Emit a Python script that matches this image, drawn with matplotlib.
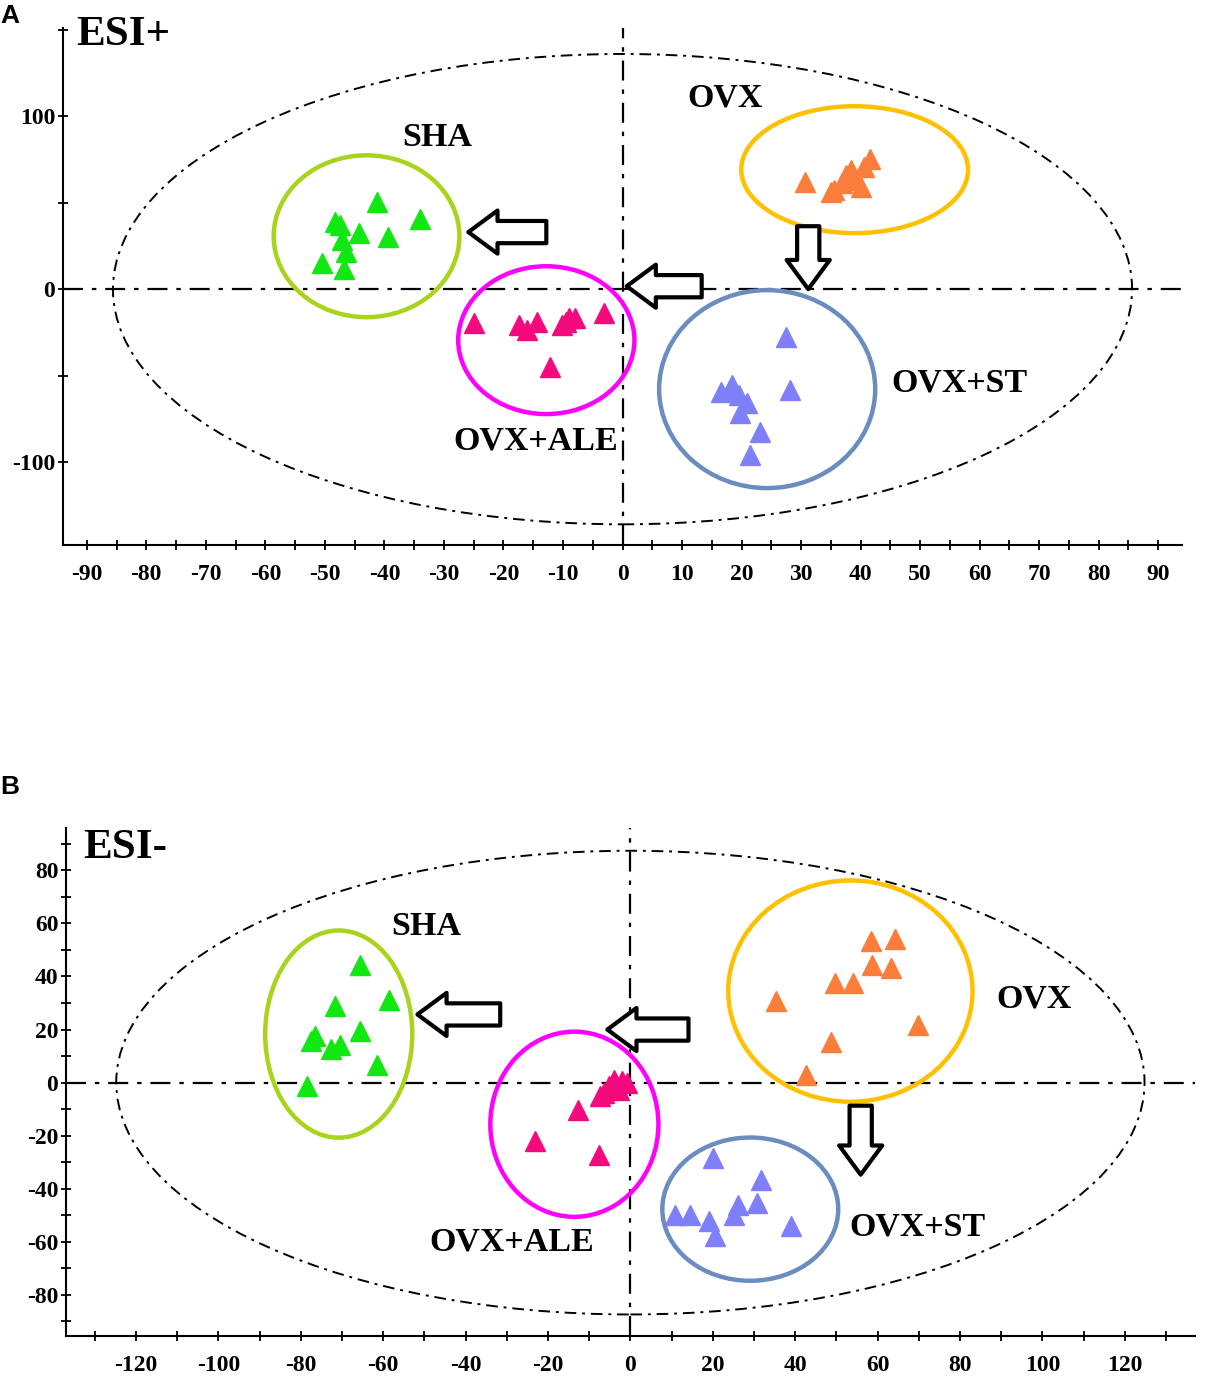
import numpy as np
import matplotlib
matplotlib.use("Agg")
import matplotlib.pyplot as plt
from matplotlib.patches import Ellipse
from matplotlib.ticker import MultipleLocator

plt.rcParams["axes.unicode_minus"] = False

# ---- panel A (ESI+) scores ----
a_sha_x = [-41.2, -34.1, -48.3, -47.5, -44.3, -39.4, -47.2, -46.5, -50.4, -46.8]
a_sha_y = [50.5, 40.5, 38.9, 37.0, 32.2, 29.9, 28.3, 21.6, 14.9, 11.4]
a_ale_x = [-25.0, -17.4, -16.0, -14.3, -10.1, -9.0, -7.9, -3.1, -12.1, -9.5]
a_ale_y = [-19.8, -20.8, -23.7, -18.9, -20.8, -16.9, -16.9, -13.7, -44.9, -19.0]
a_ovx_x = [30.6, 35.5, 38.3, 40.5, 41.6, 40.0, 36.9, 38.8, 37.5, 35.0]
a_ovx_y = [62.0, 57.2, 68.8, 70.7, 75.5, 59.1, 61.1, 63.0, 66.0, 56.0]
a_st_x = [27.5, 28.1, 16.5, 18.4, 19.5, 20.9, 19.8, 23.1, 21.4, 18.0]
a_st_y = [-27.6, -58.4, -59.4, -55.5, -61.3, -66.1, -71.9, -82.5, -96.0, -58.0]

# ---- panel B (ESI-) scores ----
b_sha_x = [-65.7, -58.7, -71.8, -65.6, -76.5, -77.5, -70.4, -72.6, -61.5, -78.4]
b_sha_y = [44.5, 31.1, 28.8, 19.4, 17.5, 15.5, 14.3, 12.5, 6.8, -1.4]
b_ale_x = [-4.0, -0.8, -2.8, -6.5, -7.3, -5.3, -12.6, -23.1, -7.7, -2.0]
b_ale_y = [1.1, -0.1, -2.6, -3.9, -5.2, -1.4, -10.2, -22.1, -27.2, 0.5]
b_ovx_x = [58.5, 64.2, 58.7, 63.2, 49.6, 54.1, 35.4, 69.9, 48.8, 42.7]
b_ovx_y = [53.3, 54.2, 44.2, 43.3, 37.6, 37.6, 30.7, 21.9, 15.2, 3.0]
b_st_x = [20.0, 31.7, 30.8, 26.1, 25.1, 10.9, 14.4, 19.0, 20.6, 39.0]
b_st_y = [-28.4, -36.6, -45.4, -46.0, -49.8, -49.8, -49.8, -52.3, -58.0, -54.2]

# group ellipses: (cx, cy, width, height)
a_groups = [(-43.0, 30.6, 31.2, 93.6), (-12.8, -29.5, 29.6, 85.5),
            (39.0, 69.1, 38.1, 73.4), (24.3, -57.8, 36.3, 114.5)]
b_groups = [(-70.8, 18.3, 35.7, 78.1), (-13.6, -15.7, 40.8, 69.8),
            (53.4, 34.5, 59.3, 83.4), (29.1, -47.7, 42.7, 54.0)]
# Hotelling ellipse (width, height)
a_t2 = (171.2, 272.0)
b_t2 = (249.6, 174.8)

# arrows: (tail, tip)
a_arrows = [((-12.8, 33.0), (-25.9, 33.0)), ((13.3, 1.7), (0.7, 1.7)),
            ((31.2, 36.4), (31.2, 0.0))]
b_arrows = [((-31.6, 25.7), (-51.7, 25.7)), ((14.1, 20.0), (-5.6, 20.0)),
            ((55.9, -8.7), (55.9, -34.7))]

# labels
a_labels = [("SHA", -31.1, 87.9), ("OVX", 17.3, 110.4),
            ("OVX+ST", 56.6, -54.3), ("OVX+ALE", -14.6, -87.9)]
b_labels = [("SHA", -49.5, 58.9), ("OVX", 97.9, 31.7),
            ("OVX+ST", 69.7, -54.3), ("OVX+ALE", -28.9, -60.0)]

pt_colors = ["#11e811", "#f50a7d", "#fb7d3c", "#7f7ff9"]
ring_colors = ["#a8d41c", "#ff00ff", "#ffc000", "#6a8cbf"]

SERIF = "Liberation Serif"


def draw_panel(ax, pts, groups, t2, arrows, labels, title, xlim, ylim, xt, yt):
    ax.set_xlim(*xlim)
    ax.set_ylim(*ylim)
    for s in ["top", "right"]:
        ax.spines[s].set_visible(False)
    for s in ["left", "bottom"]:
        ax.spines[s].set_linewidth(1.5)
    ax.axhline(0, color="black", lw=1.6, ls=(0, (9, 4, 2, 4)), zorder=1)
    ax.axvline(0, color="black", lw=1.6, ls=(0, (9, 4, 2, 4)), zorder=1)
    ax.add_patch(Ellipse((0, 0), t2[0], t2[1], fill=False, ec="black", lw=1.4,
                         ls=(0, (6, 3, 1.5, 3)), zorder=1))
    for (cx, cy, w, h), c in zip(groups, ring_colors):
        ax.add_patch(Ellipse((cx, cy), w, h, fill=False, ec=c, lw=3.2, zorder=2))
    for (x, y), c in zip(pts, pt_colors):
        ax.plot(x, y, ls="none", marker="^", ms=14, color=c, mec=c, zorder=3)
    for tail, tip in arrows:
        ax.annotate("", xy=tip, xytext=tail, zorder=4,
                    arrowprops=dict(arrowstyle="simple,head_length=1.05,head_width=1.55,tail_width=0.8",
                                    fc="white", ec="black", lw=3, mutation_scale=20,
                                    shrinkA=0, shrinkB=0))
    for txt, x, y in labels:
        ax.text(x, y, txt, family=SERIF, weight="bold", fontsize=24.5,
                ha="center", va="center", zorder=5)
    ax.text(title[1], title[2], title[0], family=SERIF, weight="bold", fontsize=31,
            ha="left", va="center", clip_on=False)
    ax.xaxis.set_major_locator(MultipleLocator(xt[0]))
    ax.xaxis.set_minor_locator(MultipleLocator(xt[1]))
    ax.yaxis.set_major_locator(MultipleLocator(yt[0]))
    ax.yaxis.set_minor_locator(MultipleLocator(yt[1]))
    ax.tick_params(which="both", direction="inout", length=7, width=1.3, labelsize=17)
    ax.tick_params(axis="x", pad=10)
    ax.tick_params(axis="y", pad=2)
    for lab in ax.get_xticklabels() + ax.get_yticklabels():
        lab.set_family(SERIF)
        lab.set_weight("bold")


fig = plt.figure(figsize=(12.13, 13.88), dpi=100)
axA = fig.add_axes([0.0519, 0.6073, 0.9226, 0.3725])
axB = fig.add_axes([0.0544, 0.0375, 0.9306, 0.366])

draw_panel(axA, [(a_sha_x, a_sha_y), (a_ale_x, a_ale_y), (a_ovx_x, a_ovx_y), (a_st_x, a_st_y)],
           a_groups, a_t2, a_arrows, a_labels, ("ESI+", -91.8, 146.8),
           (-94, 94), (-148, 151), (10, 5), (100, 50))
draw_panel(axB, [(b_sha_x, b_sha_y), (b_ale_x, b_ale_y), (b_ovx_x, b_ovx_y), (b_st_x, b_st_y)],
           b_groups, b_t2, b_arrows, b_labels, ("ESI-", -132.8, 88.3),
           (-137, 137), (-95.5, 96), (20, 10), (20, 10))

fig.text(0.0, 0.9885, "A", family="Liberation Sans", weight="bold", fontsize=19, va="center")
fig.text(0.0, 0.4333, "B", family="Liberation Sans", weight="bold", fontsize=19, va="center")

fig.savefig("out.png", dpi=100)
